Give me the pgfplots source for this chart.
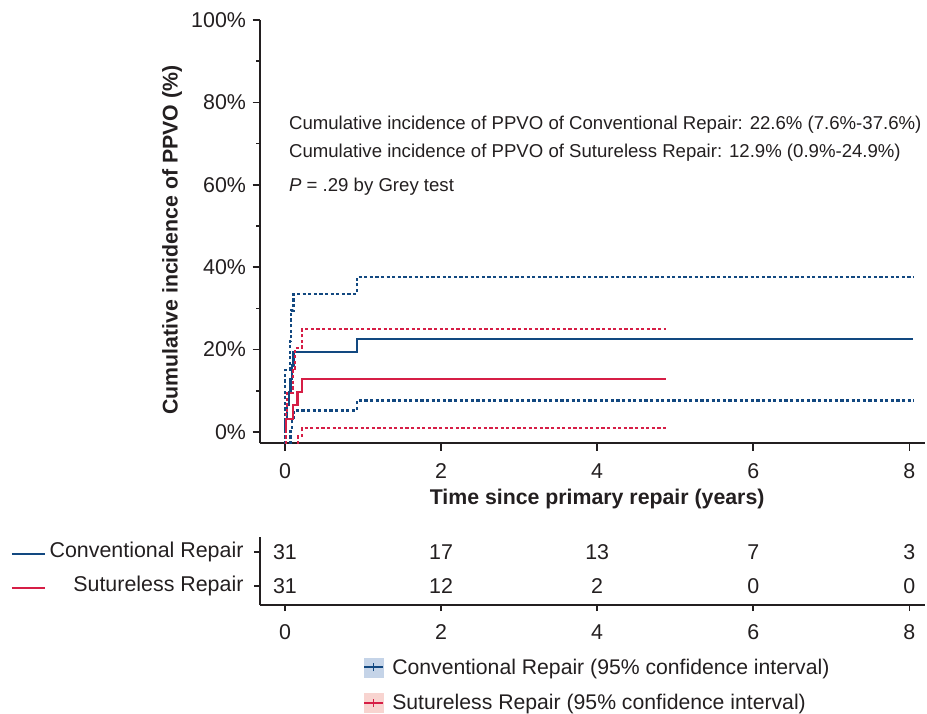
\documentclass[border=0pt]{standalone}
\usepackage{fontspec}
\setmainfont{Liberation Sans}
\usepackage{pgfplots}
\pgfplotsset{compat=1.18}
\definecolor{cblue}{RGB}{18,72,128}
\definecolor{cred}{RGB}{214,30,70}
\definecolor{cbluel}{RGB}{197,212,232}
\definecolor{credl}{RGB}{248,212,208}
\definecolor{txt}{RGB}{35,31,32}
\definecolor{axc}{RGB}{35,31,32}
\pgfplotsset{
  commonax/.style={
    scale only axis, width=665pt,
    xmin=-0.32, xmax=8.2,
    axis x line*=bottom, axis y line*=left,
    axis line style={line width=2.2pt, color=axc, -},
    every tick/.style={line width=1.6pt, color=axc},
    tick align=outside, major tick length=7.5pt, minor tick length=4pt,
    xtick={0,2,4,6,8},
    ticklabel style={font=\fontsize{21.4}{25}\selectfont, text=txt},
    xticklabel style={yshift=-10pt},
    /pgf/number format/assume math mode=true,
  },
  dotl/.style={line width=2.3pt, dash pattern=on 3.2pt off 2.4pt, const plot, forget plot},
  soll/.style={line width=2.2pt, const plot, forget plot},
}
\begin{document}
\begin{tikzpicture}
\useasboundingbox (0pt,0pt) rectangle (927pt,-713pt);
\begin{axis}[commonax,
  at={(260pt,-443pt)}, anchor=south west,
  height=423pt,
  ymin=-2.7, ymax=100,
  ytick={0,20,40,60,80,100}, minor ytick={10,30,50,70,90},
  yticklabel={\pgfmathprintnumber{\tick}\%},
  yticklabel style={xshift=-3pt},
  xlabel={Time since primary repair (years)},
  ylabel={Cumulative incidence of PPVO (\%)},
  label style={font=\bfseries\fontsize{21.3}{25}\selectfont, text=txt},
  xlabel style={at={(axis description cs:0.507,-0.132)}, anchor=center},
  ylabel style={at={(axis description cs:-0.132,0.48)}, anchor=center},
  legend style={at={(0.155,-0.507)}, anchor=north west, draw=none, fill=none,
    font=\fontsize{21.2}{25}\selectfont, text=txt, inner sep=0pt, row sep=16pt,
    nodes={inner sep=0pt}, column sep=8pt},
  legend cell align=left,
]
\addlegendimage{legend image code/.code={
  \fill[cbluel] (0pt,-9.5pt) rectangle (19pt,9.5pt);
  \draw[cblue,line width=2pt] (0pt,0pt) -- (19pt,0pt);
  \draw[cblue,line width=1.2pt] (9.5pt,-4pt) -- (9.5pt,4pt);}}
\addlegendentry{Conventional Repair (95\% confidence interval)}
\addlegendimage{legend image code/.code={
  \fill[credl] (0pt,-9.5pt) rectangle (19pt,9.5pt);
  \draw[cred,line width=2pt] (0pt,0pt) -- (19pt,0pt);
  \draw[cred,line width=1.2pt] (9.5pt,-4pt) -- (9.5pt,4pt);}}
\addlegendentry{Sutureless Repair (95\% confidence interval)}

% Conventional repair
\addplot[cblue, dotl] coordinates {(0,-3) (0,15) (0.06,22) (0.08,29.5) (0.11,33.5) (0.92,37.6) (8.05,37.6)};
\addplot[cblue, dotl] coordinates {(0.07,-3) (0.07,1) (0.09,3.4) (0.11,5.2) (0.92,7.6) (8.05,7.6)};
\addplot[cblue, soll] coordinates {(0,0) (0,3.2) (0.03,6.5) (0.05,9.7) (0.07,12.9) (0.09,16.1) (0.11,19.4) (0.92,22.6) (8.05,22.6)};
% Sutureless repair
\addplot[cred, dotl] coordinates {(0.01,-3) (0.01,5) (0.03,9.5) (0.1,15) (0.13,20.4) (0.22,24.9) (4.88,24.9)};
\addplot[cred, dotl] coordinates {(0.17,-3) (0.17,-1) (0.22,0.9) (4.88,0.9)};
\addplot[cred, soll] coordinates {(0,0) (0.01,3.2) (0.1,6.5) (0.16,9.7) (0.22,12.9) (4.88,12.9)};

\begin{scope}[font=\fontsize{18.6}{22}\selectfont, text=txt]
\node[anchor=west, inner sep=0pt] at (axis cs:0.05,74.5) {Cumulative incidence of PPVO of Conventional Repair: 22.6\% (7.6\%-37.6\%)};
\node[anchor=west, inner sep=0pt] at (axis cs:0.05,67.7) {Cumulative incidence of PPVO of Sutureless Repair: 12.9\% (0.9\%-24.9\%)};
\node[anchor=west, inner sep=0pt] at (axis cs:0.05,59.5) {\textit{P} = .29 by Grey test};
\end{scope}
\end{axis}

\begin{axis}[commonax,
  at={(260pt,-605pt)}, anchor=south west,
  height=68pt,
  ymin=0, ymax=68,
  ytick={19,53}, yticklabels={Sutureless Repair, Conventional Repair},
  yticklabel style={xshift=-7pt},
  major tick length=6pt,
  clip=false,
]
\addplot[draw=none, nodes near coords, point meta=explicit symbolic,
  nodes near coords style={anchor=center, font=\fontsize{21.4}{25}\selectfont, text=txt}]
  table[meta=n, row sep=\\] {x y n\\ 0 53 31\\ 2 53 17\\ 4 53 13\\ 6 53 7\\ 8 53 3\\
  0 19 31\\ 2 19 12\\ 4 19 2\\ 6 19 0\\ 8 19 0\\};
\addplot[cblue, line width=2pt] coordinates {(-3.5,51) (-3.08,51)};
\addplot[cred, line width=2pt] coordinates {(-3.5,17) (-3.08,17)};
\end{axis}
\end{tikzpicture}
\end{document}
